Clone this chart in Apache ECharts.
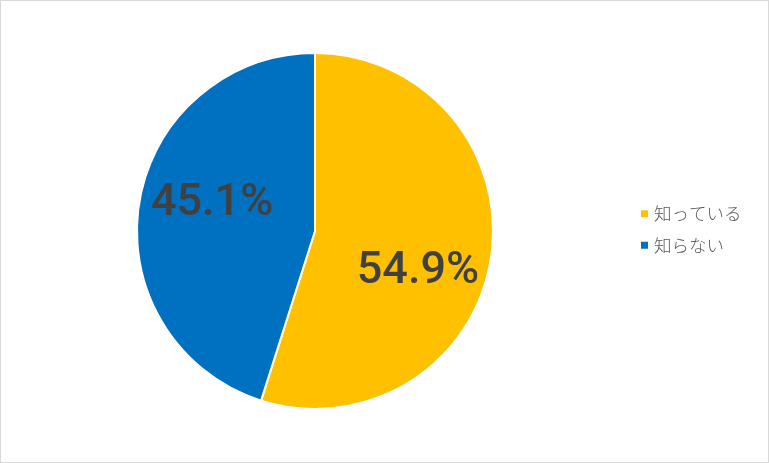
<!DOCTYPE html>
<html>
<head>
<meta charset="utf-8">
<script src="https://cdn.jsdelivr.net/npm/echarts@6/dist/echarts.min.js"></script>
<style>
  html, body { margin: 0; padding: 0; background: #fff; }
  #chart { width: 767px; height: 461px; border: 1px solid #d9d9d9; }
</style>
</head>
<body>
<div id="chart"></div>
<script>
const categories = ["知っている", "知らない"];
const values = [54.9, 45.1];
const colors = ["#FFC000", "#0070C0"];
const labelOffsets = [[12, 27], [-12, -13]];

const chart = echarts.init(document.getElementById("chart"));

chart.setOption({
  animation: false,
  legend: {
    orient: "vertical",
    left: 633,
    top: 199,
    itemWidth: 9,
    itemHeight: 9,
    itemGap: 14,
    icon: "rect",
    textStyle: {
      fontFamily: "Noto Sans CJK JP",
      fontWeight: 300,
      fontSize: 17.5,
      color: "#595959",
    },
    data: categories,
  },
  series: [
    {
      type: "pie",
      center: [314, 230],
      radius: 178,
      startAngle: 90,
      clockwise: true,
      itemStyle: { borderColor: "#fff", borderWidth: 2 },
      label: {
        show: true,
        position: "inside",
        formatter: (p) => p.value.toFixed(1) + "%",
        fontFamily: "Roboto",
        fontWeight: 500,
        fontSize: 45,
        color: "#404040",
      },
      labelLine: { show: false },
      emphasis: { disabled: true },
      data: categories.map((c, i) => ({
        name: c,
        value: values[i],
        itemStyle: { color: colors[i] },
        label: { offset: labelOffsets[i] },
      })),
    },
  ],
});
</script>
</body>
</html>
